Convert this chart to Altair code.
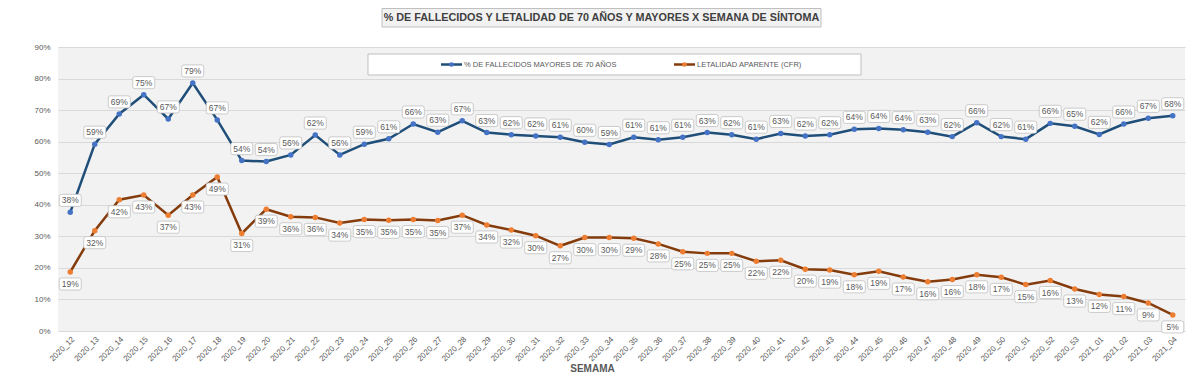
import altair as alt
import pandas as pd

weeks = ["2020_12", "2020_13", "2020_14", "2020_15", "2020_16", "2020_17", "2020_18",
         "2020_19", "2020_20", "2020_21", "2020_22", "2020_23", "2020_24", "2020_25",
         "2020_26", "2020_27", "2020_28", "2020_29", "2020_30", "2020_31", "2020_32",
         "2020_33", "2020_34", "2020_35", "2020_36", "2020_37", "2020_38", "2020_39",
         "2020_40", "2020_41", "2020_42", "2020_43", "2020_44", "2020_45", "2020_46",
         "2020_47", "2020_48", "2020_49", "2020_50", "2020_51", "2020_52", "2020_53",
         "2021_01", "2021_02", "2021_03", "2021_04"]

pct_mayores_70 = [37.6, 59.2, 68.8, 74.9, 67.2, 78.6, 66.9, 54.0, 53.7, 55.8, 62.1, 55.8,
                  59.2, 60.9, 65.6, 63.0, 66.6, 62.9, 62.2, 61.8, 61.4, 59.8, 59.1, 61.4,
                  60.6, 61.4, 62.9, 62.2, 60.8, 62.6, 61.8, 62.2, 63.9, 64.2, 63.8, 63.0,
                  61.6, 66.0, 61.6, 60.8, 65.8, 64.9, 62.3, 65.6, 67.4, 68.2]

letalidad_cfr = [18.7, 31.8, 41.6, 43.1, 36.7, 43.1, 48.8, 30.9, 38.6, 36.2, 36.0, 34.2,
                 35.3, 35.1, 35.3, 35.0, 36.7, 33.6, 32.0, 30.2, 27.0, 29.6, 29.6, 29.4,
                 27.6, 25.1, 24.6, 24.6, 22.1, 22.4, 19.6, 19.3, 17.8, 18.9, 17.1, 15.6,
                 16.3, 17.8, 17.0, 14.7, 16.0, 13.3, 11.6, 10.9, 8.9, 5.1]

series_names = ["% DE FALLECIDOS MAYORES DE 70 AÑOS", "LETALIDAD APARENTE (CFR)"]
y_ticks = [0, 10, 20, 30, 40, 50, 60, 70, 80, 90]
chart_title = "% DE FALLECIDOS Y LETALIDAD DE 70 AÑOS Y MAYORES X SEMANA DE SÍNTOMA"
x_title = "SEMAMA"

LINE_COLORS = ["#1F4E79", "#843C0C"]
POINT_COLORS = ["#4472C4", "#ED7D31"]
FONT = "Liberation Sans"
GRAY = "#595959"
W, H = 1127, 284

df = pd.DataFrame({
    "semana": weeks + weeks,
    "valor": pct_mayores_70 + letalidad_cfr,
    "serie": [series_names[0]] * len(weeks) + [series_names[1]] * len(weeks),
})

x_enc = alt.X("semana:N", sort=weeks,
              scale=alt.Scale(type="point", padding=0.5),
              axis=alt.Axis(title=x_title, labelAngle=-45, labelFontSize=8, labelColor=GRAY,
                            labelFont=FONT, ticks=False, tickSize=0, domain=False,
                            labelPadding=4, titleFont=FONT, titleFontSize=10,
                            titleFontWeight="bold", titleColor=GRAY,
                            titleX=534, titleY=37, titleBaseline="middle"))
y_enc = alt.Y("valor:Q", scale=alt.Scale(domain=[0, 90], nice=False),
              axis=alt.Axis(values=y_ticks, labelExpr="datum.value + '%'", title=None,
                            labelFontSize=8, labelColor=GRAY, labelFont=FONT,
                            ticks=False, tickSize=0, domain=False, labelPadding=8,
                            grid=True, gridColor="#D9D9D9", gridWidth=1))

base = alt.Chart(df)

lines = base.mark_line(strokeWidth=2.5).encode(
    x=x_enc, y=y_enc,
    stroke=alt.Stroke("serie:N", scale=alt.Scale(domain=series_names, range=LINE_COLORS), legend=None),
)
points = base.mark_point(filled=True, size=30, opacity=1).encode(
    x=x_enc, y=y_enc,
    fill=alt.Fill("serie:N", scale=alt.Scale(domain=series_names, range=POINT_COLORS), legend=None),
)

BOX = ("M-0.8,-0.55H0.8Q1,-0.55 1,-0.35V0.35Q1,0.55 0.8,0.55H-0.8"
       "Q-1,0.55 -1,0.35V-0.35Q-1,-0.55 -0.8,-0.55Z")

label_layers = []
for name, off in [(series_names[0], -12), (series_names[1], 12)]:
    sub = base.transform_filter(alt.datum.serie == name).transform_calculate(
        label="format(datum.valor, '.0f') + '%'")
    box = sub.mark_point(shape=BOX, size=484, fill="white", fillOpacity=1, stroke="#BFBFBF",
                         strokeWidth=0.8, opacity=1, yOffset=off).encode(x=x_enc, y=y_enc)
    txt = sub.mark_text(fontSize=8.5, color=GRAY, font=FONT, baseline="middle",
                        dy=off).encode(x=x_enc, y=y_enc, text="label:N")
    label_layers += [box, txt]

# title box
tsrc = alt.Chart(pd.DataFrame({"t": [chart_title]}))
title_box = tsrc.mark_rect(fill="#F2F2F2", stroke="#BFBFBF", strokeWidth=1).encode(
    x=alt.value(324), x2=alt.value(763), y=alt.value(-38.5), y2=alt.value(-20))
title_txt = tsrc.mark_text(fontSize=10.8, fontWeight="bold", color="#404040", font=FONT,
                           baseline="middle").encode(x=alt.value(543.5), y=alt.value(-29), text="t:N")

# legend box and entries
legend_box = alt.Chart(pd.DataFrame({"b": [1]})).mark_rect(
    fill="white", stroke="#BFBFBF", strokeWidth=1).encode(
    x=alt.value(310), x2=alt.value(803), y=alt.value(7), y2=alt.value(28))

legend_layers = []
for i, x0 in enumerate([383, 616]):
    src = alt.Chart(pd.DataFrame({"n": [series_names[i]]}))
    legend_layers.append(src.mark_rule(color=LINE_COLORS[i], strokeWidth=2.5).encode(
        x=alt.value(x0), x2=alt.value(x0 + 21), y=alt.value(17.5)))
    legend_layers.append(src.mark_point(filled=True, fill=POINT_COLORS[i], size=22, opacity=1).encode(
        x=alt.value(x0 + 10.5), y=alt.value(17.5)))
    legend_layers.append(src.mark_text(align="left", baseline="middle", fontSize=7.5,
                                       color=GRAY, font=FONT).encode(
        x=alt.value(x0 + 23), y=alt.value(17.5), text="n:N"))

chart = alt.layer(
    lines, points, *label_layers, title_box, title_txt, legend_box, *legend_layers
).properties(
    width=W, height=H,
    autosize=alt.AutoSizeParams(type="none"),
    padding={"left": 50, "top": 39, "right": 7, "bottom": 43},
    background="white",
).configure_view(fill="#F2F2F2", strokeWidth=0)

chart.save("out.html", embed_options={"renderer": "svg", "actions": False})
